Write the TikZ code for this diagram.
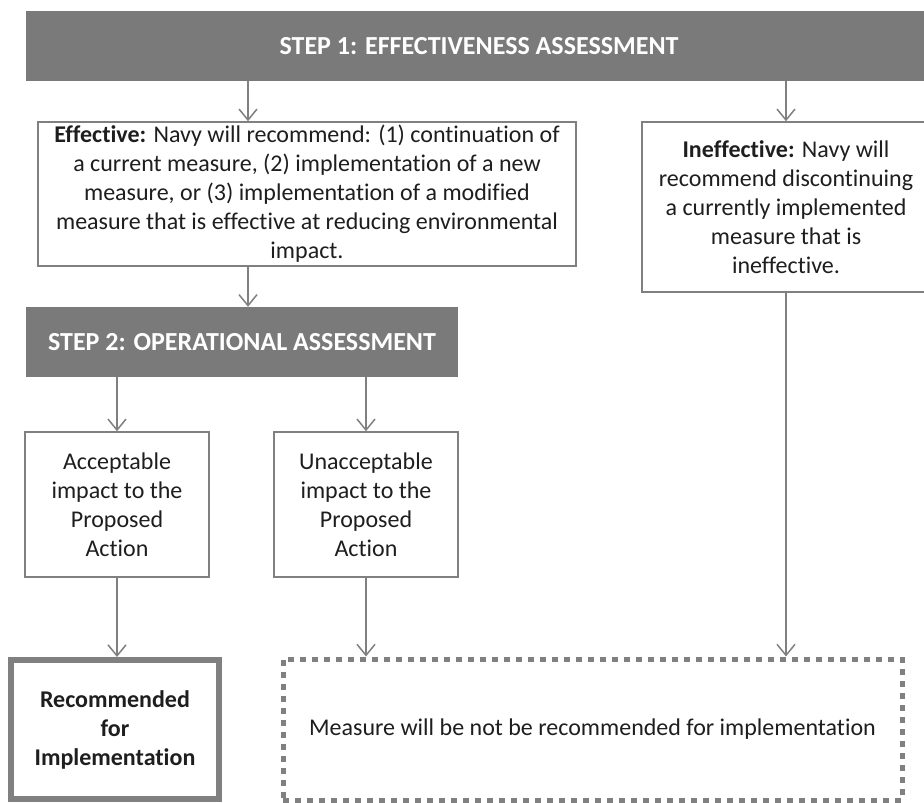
\documentclass[tikz,border=0pt]{standalone}
\usepackage{fontspec}
\setmainfont[Ligatures=NoCommon]{Carlito}
\usetikzlibrary{arrows.meta}
\definecolor{bannergray}{HTML}{7A7A7A}
\definecolor{linegray}{HTML}{808080}
\definecolor{textblack}{HTML}{1E1E1E}

\begin{document}
\begin{tikzpicture}[x=1pt, y=-1pt]
	\tikzset{banner/.style={rectangle, fill=bannergray, draw=none, text=white, inner sep=0pt, font={\fontsize{26}{30}\selectfont\bfseries}},
		box/.style={rectangle, draw=linegray, line width=1.5pt, fill=white, text=textblack, align=center, inner sep=0pt, font={\fontsize{24}{29}\selectfont}},
		arr/.style={draw=linegray, line width=1.5pt, -{Straight Barb[length=11pt, width=18pt, line width=1.5pt]}}}
	
	\useasboundingbox (0,0) rectangle (924,803);
	
	\node[banner, minimum width=906pt, minimum height=70pt] (step_1) at (479,46) {STEP 1: EFFECTIVENESS ASSESSMENT};
	\node[box, minimum width=538pt, minimum height=144pt] (eff) at (307,194) {\textbf{Effective:} Navy will recommend: (1) continuation of\\ a current measure, (2) implementation of a new\\ measure, or (3) implementation of a modified\\ measure that is effective at reducing environmental\\ impact.};
	\node[box, minimum width=288pt, minimum height=170pt] (ineff) at (786,207) {\textbf{Ineffective:} Navy will\\ recommend discontinuing\\ a currently implemented\\ measure that is\\ ineffective.};
	\node[banner, minimum width=432pt, minimum height=70pt] (step_2) at (242,342) {STEP 2: OPERATIONAL ASSESSMENT};
	\node[box, minimum width=184pt, minimum height=145pt] (acc) at (117,504.5) {Acceptable\\ impact to the\\ Proposed\\ Action};
	\node[box, minimum width=184pt, minimum height=145pt] (unacc) at (366,504.5) {Unacceptable\\ impact to the\\ Proposed\\ Action};
	\node[box, line width=6pt, minimum width=208pt, minimum height=139pt, font={\fontsize{24}{29}\selectfont\bfseries}] (rec) at (115,729.5) {Recommended\\ for\\ Implementation};
	\node[box, line width=5pt, dash pattern=on 6pt off 6pt, minimum width=619pt, minimum height=141pt] (meas) at (592.5,729.5) {Measure will be not be recommended for implementation};
	
	\coordinate (mid) at (248,0);
	\draw[arr] (step_1.south -| mid) -- (eff.north -| mid);
	\draw[arr] (step_1.south -| ineff.north) -- (ineff.north);
	\draw[arr] (eff.south -| mid) -- (step_2.north -| mid);
	\draw[arr] (step_2.south -| acc.north) -- (acc.north);
	\draw[arr] (step_2.south -| unacc.north) -- (unacc.north);
	\draw[arr] (acc.south) -- (rec.north -| acc.south);
	\draw[arr] (unacc.south) -- (meas.north -| unacc.south);
	\draw[arr] (ineff.south) -- (meas.north -| ineff.south);
	
\end{tikzpicture}
\end{document}
